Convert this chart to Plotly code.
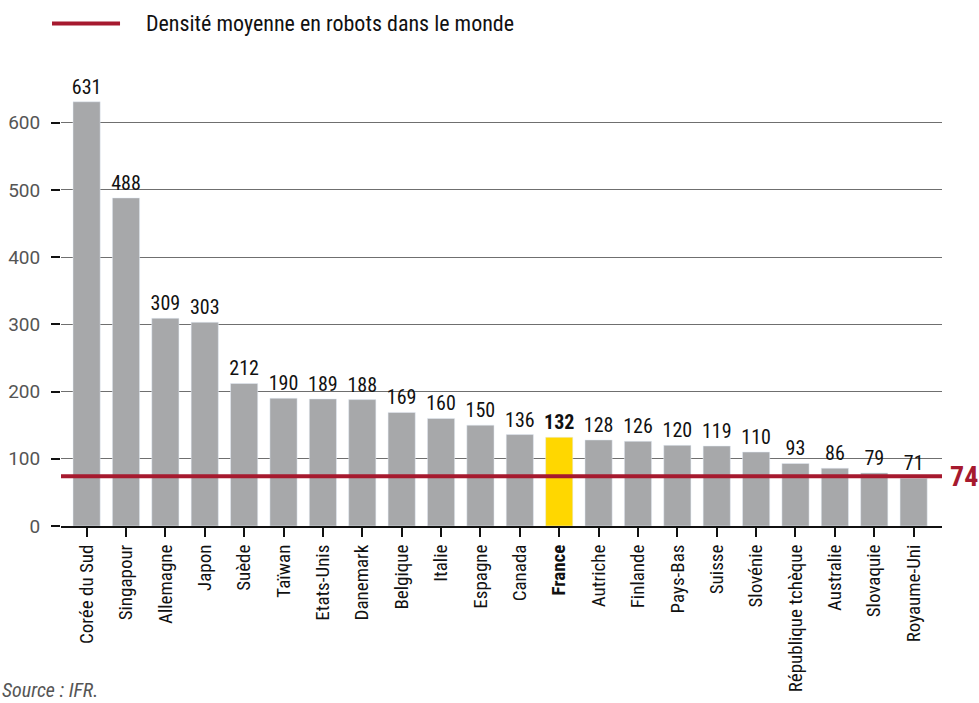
import plotly.graph_objects as go

countries = ["Corée du Sud", "Singapour", "Allemagne", "Japon", "Suède", "Taïwan",
             "Etats-Unis", "Danemark", "Belgique", "Italie", "Espagne", "Canada",
             "France", "Autriche", "Finlande", "Pays-Bas", "Suisse", "Slovénie",
             "République tchèque", "Australie", "Slovaquie", "Royaume-Uni"]
density = [631, 488, 309, 303, 212, 190, 189, 188, 169, 160, 150, 136,
           132, 128, 126, 120, 119, 110, 93, 86, 79, 71]
world_avg = 74
highlight = "France"
y_ticks = [0, 100, 200, 300, 400, 500, 600]

NARROW = "Roboto Condensed, Liberation Sans Narrow, Roboto, sans-serif"
REGULAR = "Roboto, Liberation Sans, Arial, sans-serif"
GREY = "#A7A8AA"
YELLOW = "#FFD700"
RED = "#A6192E"

colors = [YELLOW if c == highlight else GREY for c in countries]
texts = [f"<b>{v}</b>" if c == highlight else str(v) for c, v in zip(countries, density)]
ticktext = [f"<b>{c}</b>" if c == highlight else c for c in countries]

fig = go.Figure()
fig.add_trace(go.Bar(
    x=list(range(len(countries))), y=density, marker_color=colors, width=0.69,
    text=texts, textposition="outside", cliponaxis=False, constraintext="none",
    textfont=dict(family=NARROW, size=20, color="#111"), showlegend=False,
))

fig.add_shape(type="line", xref="paper", yref="y", x0=0, x1=1, y0=world_avg, y1=world_avg,
              line=dict(color=RED, width=4), layer="above")
fig.add_annotation(xref="paper", yref="y", x=1.0068, y=world_avg, text=f"<b>{world_avg}</b>",
                   showarrow=False, xanchor="left", yanchor="middle",
                   font=dict(family=NARROW, size=28, color=RED))

# legend
fig.add_shape(type="line", xref="paper", yref="paper", x0=-0.0102, x1=0.067, y0=1.15, y1=1.15,
              line=dict(color=RED, width=4))
fig.add_annotation(xref="paper", yref="paper", x=0.0942, y=1.15,
                   text="Densité moyenne en robots dans le monde", showarrow=False,
                   xanchor="left", yanchor="middle", font=dict(family=NARROW, size=22, color="#111"))

fig.add_annotation(xref="paper", yref="paper", x=-0.0692, y=-0.3756, text="<i>Source : IFR.</i>",
                   showarrow=False, xanchor="left", yanchor="middle",
                   font=dict(family=NARROW, size=20, color="#555"))

fig.update_layout(
    width=979, height=703, margin=dict(l=61, r=37, t=89, b=177, autoexpand=False),
    plot_bgcolor="white", paper_bgcolor="white",
    font=dict(family=NARROW),
)
fig.update_xaxes(
    range=[-0.65, 21.72], tickmode="array", tickvals=list(range(len(countries))),
    ticktext=ticktext, tickangle=-90, ticks="outside", ticklen=9, tickwidth=2, tickcolor="#111",
    showline=True, linecolor="#111", linewidth=2, showgrid=False, automargin=False,
    tickfont=dict(family=NARROW, size=19, color="#111"),
)
fig.update_yaxes(
    range=[0, 650], tickmode="array", tickvals=y_ticks, ticks="outside", ticklen=9,
    tickwidth=2, tickcolor="#111", showgrid=True, gridcolor="#6f6f6f", gridwidth=1,
    zeroline=False, showline=False, automargin=False, ticklabelstandoff=7,
    tickfont=dict(family=REGULAR, size=19, color="#555"),
)

fig.write_html("out.html", config={"displayModeBar": False},
               post_script="document.body.style.margin='0';")
